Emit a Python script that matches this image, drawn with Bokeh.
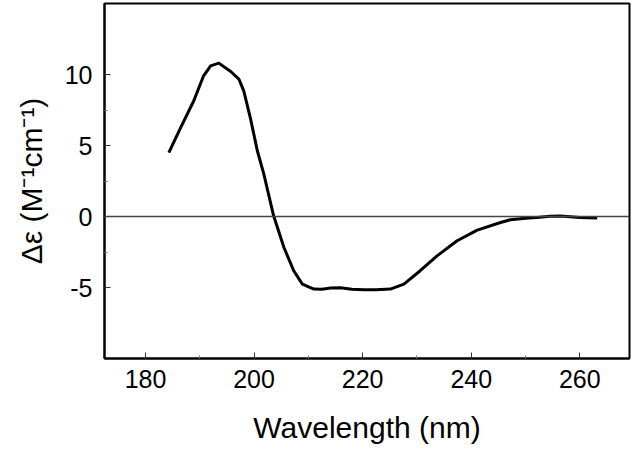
from bokeh.plotting import figure
from bokeh.models import Range1d, Span, FixedTicker, CustomJSTickFormatter
from bokeh.embed import file_html
from bokeh.resources import INLINE

wavelength = [184.3, 186.5, 188.9, 190.7, 192.0, 193.5, 195.7, 197.2, 198.1, 199.3, 200.6,
              201.8, 203.6, 205.5, 207.3, 208.9, 211.0, 212.5, 214.1, 215.9, 218.0,
              220.2, 222.5, 225.1, 227.6, 230.6, 233.7, 237.4, 241.1, 245.4, 247.2,
              250.0, 252.1, 254.5, 256.4, 260.0, 263.2]
delta_eps = [4.5, 6.27, 8.15, 9.91, 10.61, 10.8, 10.21, 9.68, 8.85, 6.97, 4.63,
             2.99, 0.05, -2.18, -3.82, -4.76, -5.11, -5.12, -5.04, -5.02, -5.12,
             -5.16, -5.15, -5.11, -4.76, -3.82, -2.77, -1.71, -0.96, -0.42, -0.23,
             -0.12, -0.07, 0.02, 0.03, -0.07, -0.1]

x_major = [180, 200, 220, 240, 260]
x_minor = [190, 210, 230, 250]
y_major = [-5, 0, 5, 10]
y_minor = [-2.5, 2.5, 7.5]

FONT = "Liberation Sans"

p = figure(width=632, height=452, output_backend="svg", toolbar_location=None,
           x_range=Range1d(172.45, 269.15), y_range=Range1d(-10.0, 15.0),
           min_border_left=104, min_border_right=3, min_border_top=3, min_border_bottom=94)
p.grid.visible = False
p.background_fill_color = "white"
p.border_fill_color = "white"
p.outline_line_color = "black"
p.outline_line_width = 2

p.add_layout(Span(location=0, dimension="width", line_color="#444444", line_width=1.6))
p.line(wavelength, delta_eps, line_color="black", line_width=3, line_join="round", line_cap="butt")

p.xaxis.ticker = FixedTicker(ticks=x_major, minor_ticks=x_minor)
p.yaxis.ticker = FixedTicker(ticks=y_major, minor_ticks=y_minor)
fmt = CustomJSTickFormatter(code="return String(tick);")
for ax in (p.xaxis, p.yaxis):
    ax.formatter = fmt
    ax.axis_line_color = "black"
    ax.axis_line_width = 2
    ax.major_tick_in = 6
    ax.major_tick_out = 0
    ax.minor_tick_in = 3
    ax.minor_tick_out = 0
    ax.major_tick_line_color = "#333333"
    ax.minor_tick_line_color = "#777777"
    ax.major_label_text_font = FONT
    ax.major_label_text_font_size = "25px"
    ax.major_label_text_color = "black"
    ax.axis_label_text_font = FONT
    ax.axis_label_text_font_size = "30px"
    ax.axis_label_text_font_style = "normal"
    ax.axis_label_text_color = "black"

p.xaxis.axis_label = "Wavelength (nm)"
p.yaxis.axis_label = "Δε (M⁻¹cm⁻¹)"
p.xaxis.major_label_standoff = 11
p.yaxis.major_label_standoff = 12
p.xaxis.axis_label_standoff = 20
p.yaxis.axis_label_standoff = 14

open("out.html", "w").write(file_html(p, INLINE))
